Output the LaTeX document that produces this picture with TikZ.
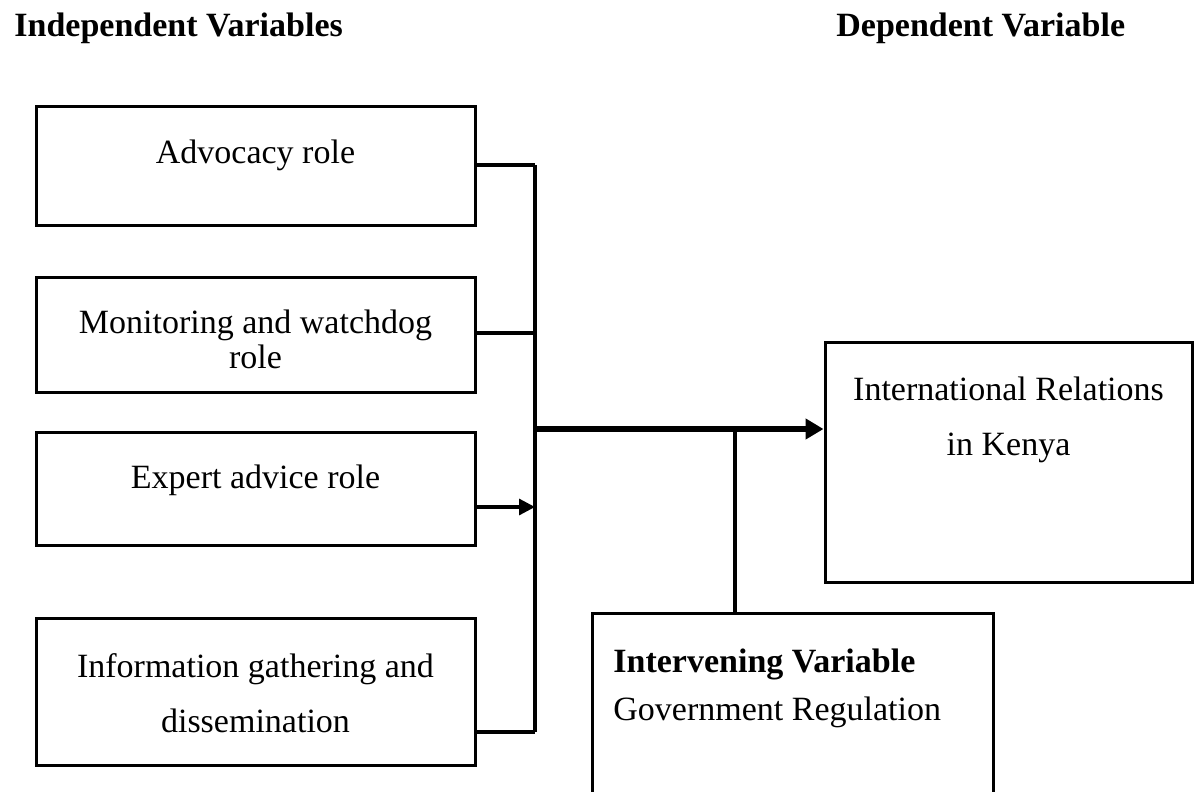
\documentclass[tikz,border=0pt]{standalone}
\usepackage{fontspec}
\setmainfont{Liberation Serif}
\usetikzlibrary{arrows.meta}
\begin{document}
\begin{tikzpicture}[x=0.5pt,y=-0.5pt,
  box/.style={draw, line width=1.5pt, inner sep=0pt, rectangle},
  txt/.style={font=\fontsize{17}{20}\selectfont, anchor=base, inner sep=0pt},
  head/.style={font=\bfseries\fontsize{17}{20}\selectfont, anchor=base west, inner sep=0pt},
  conn/.style={line width=1.6pt},
  busline/.style={line width=2.4pt},
  mainarrow/.style={line width=2.8pt, -{Triangle[length=9pt,width=10pt]}},
  smallarrow/.style={line width=1.6pt, -{Triangle[length=8pt,width=8pt]}}]
\useasboundingbox (0,0) rectangle (1194,792);
\clip (0,0) rectangle (1194,792);

% headings
\node[head] (h1) at (14,37) {Independent Variables};
\node[head] (h2) at (836,37) {Dependent Variable};

% left boxes
\node[box, minimum width=219.5pt, minimum height=59pt] (adv) at (255.5,166) {};
\node[txt] (advt) at (255.5,163) {Advocacy role};

\node[box, minimum width=219.5pt, minimum height=57.5pt] (mon) at (255.5,334.5) {};
\node[txt] (mont1) at (255.5,333) {Monitoring and watchdog};
\node[txt] (mont2) at (255.5,368) {role};

\node[box, minimum width=219.5pt, minimum height=56.5pt] (exp) at (255.5,488.5) {};
\node[txt] (expt) at (255.5,488) {Expert advice role};

\node[box, minimum width=219.5pt, minimum height=73.5pt] (inf) at (255.5,691.5) {};
\node[txt] (inft1) at (255.5,677) {Information gathering and};
\node[txt] (inft2) at (255.5,732) {dissemination};

% dependent box
\node[box, minimum width=183.5pt, minimum height=120pt] (dep) at (1008.5,462) {};
\node[txt] (dept1) at (1008.5,400) {International Relations};
\node[txt] (dept2) at (1008.5,455) {in Kenya};

% intervening box (bottom runs past the page)
\node[box, minimum width=200.5pt, minimum height=118.5pt] (iv) at (792.5,731.5) {};
\node[head] (ivt1) at (613,672) {Intervening Variable};
\node[txt, anchor=base west] (ivt2) at (613,720) {Government Regulation};

% bus
\coordinate (bustop) at (535,165);
\coordinate (busbot) at (535,732);
\draw[busline] (bustop) -- (busbot);

% connectors
\draw[conn] (adv.east |- 0,165) -- (bustop);
\draw[conn] (mon.east |- 0,333) -- (bustop |- 0,333);
\draw[smallarrow] (exp.east |- 0,507) -- (bustop |- 0,507);
\draw[conn] (inf.east |- 0,732) -- (busbot);

\coordinate (mstart) at (535,429);
\draw[mainarrow] (mstart) -- (dep.west |- mstart);

\coordinate (j) at (735,429);
\draw[conn] (j) -- (j |- iv.north);
\end{tikzpicture}
\end{document}
